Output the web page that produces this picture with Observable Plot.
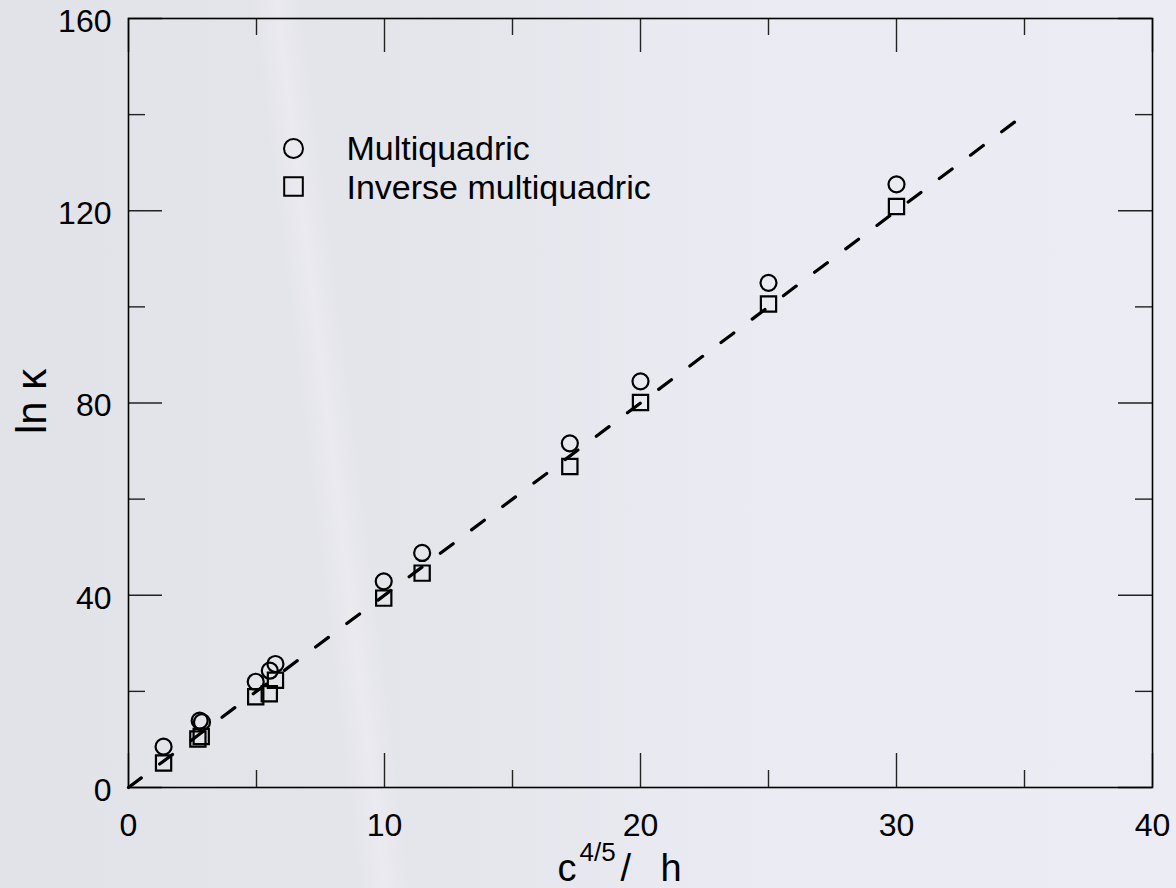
<!DOCTYPE html>
<html>
<head>
<meta charset="utf-8">
<script src="https://cdn.jsdelivr.net/npm/d3@7"></script>
<script src="https://cdn.jsdelivr.net/npm/@observablehq/plot@0.6"></script>
<style>
  html, body { margin: 0; padding: 0; }
  body {
    width: 1176px; height: 888px; overflow: hidden;
    background:
      linear-gradient(83deg, rgba(255,255,255,0) 0 28%, rgba(255,255,255,0.22) 30%, rgba(255,255,255,0) 32%),
      linear-gradient(90deg, #e2e2e9 0%, #e5e5ec 40%, #eaeaf2 60%, #ececf4 100%);
  }
  #chart svg { display: block; }
</style>
</head>
<body>
<div id="chart"></div>
<script>
// ---- data ----
const multiX = [1.37, 2.78, 2.87, 4.97, 5.52, 5.74, 9.97, 11.47, 17.24, 20, 25, 30];
const multiY = [8.5, 13.9, 13.6, 22.0, 24.3, 25.7, 42.9, 48.8, 71.6, 84.5, 105.0, 125.5];
const invX   = [1.37, 2.71, 2.84, 4.97, 5.50, 5.74, 9.97, 11.47, 17.24, 20, 25, 30];
const invY   = [5.1, 10.1, 10.6, 18.9, 19.5, 22.3, 39.4, 44.6, 66.8, 80.1, 100.6, 120.9];
const fitX   = [0, 35];
const fitY   = [0, 140];
const xMajor = [0, 10, 20, 30, 40];
const xMinor = [5, 15, 25, 35];
const yMajor = [0, 40, 80, 120, 160];
const yMinor = [20, 60, 100, 140];
const seriesNames = ["Multiquadric", "Inverse multiquadric"];
const yTitle = "ln κ";
const xTitleParts = ["c", "4/5", "/", "h"];

// ---- layout ----
const W = 1176, H = 888;
const mL = 128, mR = 24, mT = 18, mB = 101;
const pw = W - mL - mR, ph = H - mT - mB;
const big = 34, small = 17;

const multi = multiX.map((x, i) => ({x, y: multiY[i]}));
const inv = invX.map((x, i) => ({x, y: invY[i]}));
const fit = fitX.map((x, i) => ({x, y: fitY[i]}));

const tickStyle = {stroke: "#222", strokeWidth: 1.4};
const txt = {fill: "black", lineAnchor: "middle"};

const chart = Plot.plot({
  width: W, height: H,
  marginLeft: mL, marginRight: mR, marginTop: mT, marginBottom: mB,
  style: {background: "transparent", fontFamily: "'Liberation Sans', Arial, sans-serif", fontSize: "32px", color: "black"},
  x: {domain: [0, 40]},
  y: {domain: [0, 160]},
  marks: [
    // inward ticks
    Plot.tickX(xMajor, {x: d => d, insetTop: ph - big, ...tickStyle}),
    Plot.tickX(xMinor, {x: d => d, insetTop: ph - small, ...tickStyle}),
    Plot.tickX(xMajor, {x: d => d, insetBottom: ph - big, ...tickStyle}),
    Plot.tickX(xMinor, {x: d => d, insetBottom: ph - small, ...tickStyle}),
    Plot.tickY(yMajor, {y: d => d, insetRight: pw - big, ...tickStyle}),
    Plot.tickY(yMinor, {y: d => d, insetRight: pw - small, ...tickStyle}),
    Plot.tickY(yMajor, {y: d => d, insetLeft: pw - big, ...tickStyle}),
    Plot.tickY(yMinor, {y: d => d, insetLeft: pw - small, ...tickStyle}),
    Plot.frame({stroke: "black", strokeWidth: 1.6}),
    Plot.axisX({ticks: xMajor, tickSize: 0, tickPadding: 26, label: null, fontSize: 32, fill: "black"}),
    Plot.axisY({ticks: yMajor, tickSize: 0, tickPadding: 17, dy: 3, label: null, fontSize: 32, fill: "black"}),
    // fitted dashed line
    Plot.line(fit, {x: "x", y: "y", stroke: "black", strokeWidth: 3.2, strokeDasharray: "16,23"}),
    // data
    Plot.dot(multi, {x: "x", y: "y", symbol: "circle", r: 8, stroke: "black", strokeWidth: 2.2, fill: "none"}),
    Plot.dot(inv, {x: "x", y: "y", symbol: "square", r: 8.6, stroke: "black", strokeWidth: 2.2, fill: "none"}),
    // legend
    Plot.dot([seriesNames[0]], {frameAnchor: "top-left", dx: 165, dy: 130, symbol: "circle", r: 9.5, stroke: "black", strokeWidth: 2, fill: "none"}),
    Plot.dot([seriesNames[1]], {frameAnchor: "top-left", dx: 165, dy: 168, symbol: "square", r: 10.5, stroke: "black", strokeWidth: 2, fill: "none"}),
    Plot.text([seriesNames[0]], {text: d => d, frameAnchor: "top-left", dx: 218, dy: 131, textAnchor: "start", fontSize: 34, ...txt}),
    Plot.text([seriesNames[1]], {text: d => d, frameAnchor: "top-left", dx: 218, dy: 170, textAnchor: "start", fontSize: 34, ...txt}),
    // axis titles
    Plot.text([yTitle], {text: d => d, frameAnchor: "left", rotate: -90, textAnchor: "start", dx: -96, dy: 31, fontSize: 42, ...txt}),
    Plot.text([xTitleParts[0]], {text: d => d, frameAnchor: "bottom", textAnchor: "start", dx: -83, dy: 81, fontSize: 38, ...txt}),
    Plot.text([xTitleParts[1]], {text: d => d, frameAnchor: "bottom", textAnchor: "start", dx: -61, dy: 65, fontSize: 26, ...txt}),
    Plot.text([xTitleParts[2]], {text: d => d, frameAnchor: "bottom", textAnchor: "start", dx: -20, dy: 81, fontSize: 38, ...txt}),
    Plot.text([xTitleParts[3]], {text: d => d, frameAnchor: "bottom", textAnchor: "start", dx: 20, dy: 81, fontSize: 38, ...txt})
  ]
});
document.getElementById("chart").appendChild(chart);
</script>
</body>
</html>
